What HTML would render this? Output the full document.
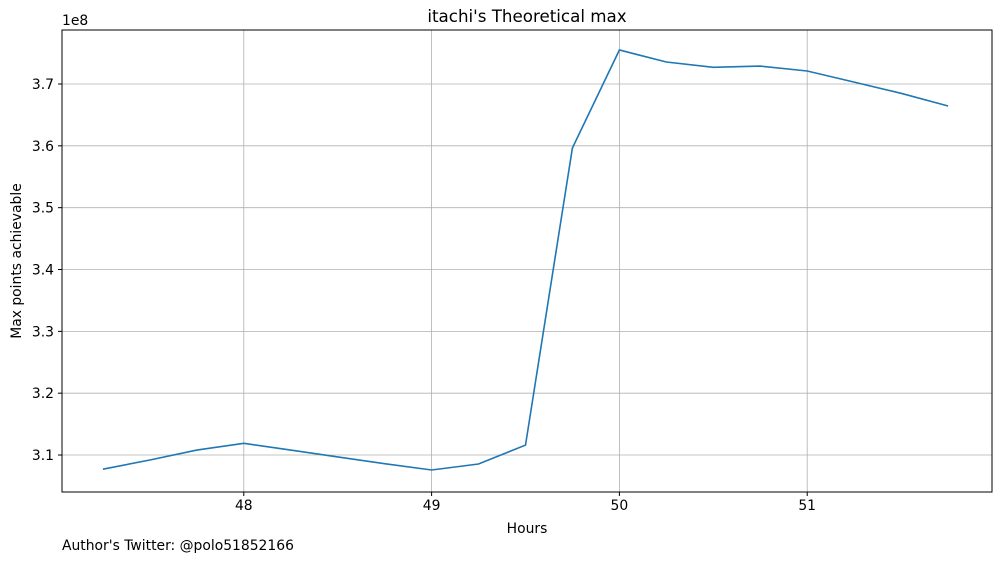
<!DOCTYPE html>
<html><head><meta charset="utf-8"><style>
body{margin:0;background:#fff;}
svg{display:block;font-family:"DejaVu Sans","Liberation Sans",sans-serif;}
</style></head><body>
<svg id="chart" width="1001" height="562" viewBox="0 0 1001 562">
<g id="grid"></g>
<g id="ticks"></g>
<path id="line" fill="none" stroke="#1f77b4" stroke-width="1.6"></path>
<rect x="62" y="30" width="930" height="462" fill="none" stroke="#000" stroke-width="1"/>
<text x="527" y="22" text-anchor="middle" font-size="16.7">itachi's Theoretical max</text>
<text x="527" y="533" text-anchor="middle" font-size="13.9">Hours</text>
<text x="21" y="261" text-anchor="middle" font-size="13.9" transform="rotate(-90 21 261)">Max points achievable</text>
<text x="62" y="25" font-size="13.9">1e8</text>
<text x="62" y="550" font-size="13.9">Author's Twitter: @polo51852166</text>
</svg>
<script>
const hours=[47.25,47.5,47.75,48,48.25,48.5,48.75,49,49.25,49.5,49.75,50,50.25,50.5,50.75,51,51.25,51.5,51.75];
const points=[3.077,3.092,3.108,3.119,3.108,3.097,3.086,3.0757,3.0854,3.116,3.5965,3.755,3.7356,3.727,3.729,3.721,3.703,3.685,3.6644];
const xTicks=[48,49,50,51];
const yTicks=[3.1,3.2,3.3,3.4,3.5,3.6,3.7];
const L=62,R=992,T=30,B=492,x0=47.032,x1=51.984,y0=3.0402,y1=3.7873;
const sx=v=>L+(v-x0)/(x1-x0)*(R-L);
const sy=v=>B-(v-y0)/(y1-y0)*(B-T);
const ns="http://www.w3.org/2000/svg";
const grid=document.getElementById('grid'),ticks=document.getElementById('ticks');
function mk(tag,attrs,parent){const e=document.createElementNS(ns,tag);for(const k in attrs)e.setAttribute(k,attrs[k]);parent.appendChild(e);return e;}
xTicks.forEach(t=>{const x=sx(t);
const g=mk('line',{x1:x,x2:x,y1:T,y2:B,stroke:'#b0b0b0','stroke-width':0.8},grid);


mk('line',{x1:x,x2:x,y1:B,y2:B+4,stroke:'#000'},ticks);
const tx=mk('text',{x:x,y:B+18,'text-anchor':'middle','font-size':13.9},ticks);tx.textContent=t;

});
yTicks.forEach(t=>{const y=sy(t);
const g=mk('line',{x1:L,x2:R,y1:y,y2:y,stroke:'#b0b0b0','stroke-width':0.8},grid);


mk('line',{x1:L-4,x2:L,y1:y,y2:y,stroke:'#000'},ticks);
const tx=mk('text',{x:L-8,y:y+5,'text-anchor':'end','font-size':13.9},ticks);tx.textContent=t.toFixed(1);

});
document.getElementById('line').setAttribute('d',hours.map((h,i)=>(i?'L':'M')+sx(h).toFixed(1)+','+sy(points[i]).toFixed(1)).join(''));
</script>
</body></html>
